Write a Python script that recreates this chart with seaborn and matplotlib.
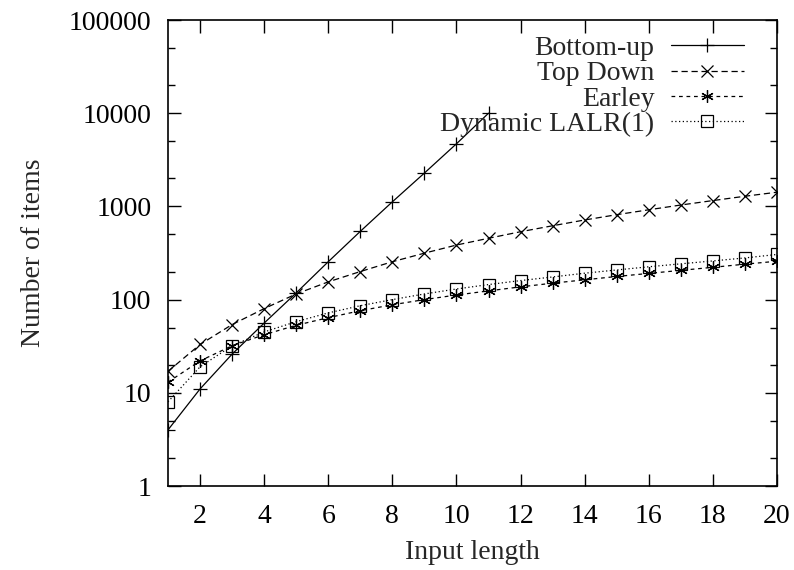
import matplotlib
matplotlib.use("Agg")
import matplotlib.pyplot as plt
import seaborn as sns
from matplotlib.ticker import LogLocator, NullFormatter, FixedLocator

# === DATA ===
x_bottom = list(range(1, 12))
bottom_up = [4, 11, 26, 56, 118, 255, 540, 1120, 2280, 4700, 10000]

x_all = list(range(1, 21))
top_down = [17, 33, 54, 80, 115, 155, 200, 255, 315, 385,
            455, 535, 620, 715, 815, 920, 1035, 1155, 1285, 1420]
earley = [13, 22, 32, 42, 53, 64, 76, 88, 100, 112,
          124, 137, 150, 163, 177, 191, 206, 222, 240, 258]
lalr = [8, 19, 32, 45, 58, 72, 86, 100, 115, 130,
        145, 160, 175, 192, 208, 225, 242, 260, 280, 305]

x_ticks = [2, 4, 6, 8, 10, 12, 14, 16, 18, 20]
y_ticks = [1, 10, 100, 1000, 10000, 100000]

sns.set_theme(style="ticks")
plt.rcParams['font.family'] = ['Liberation Serif', 'DejaVu Serif']

FS = 20

fig = plt.figure(figsize=(7.94, 5.70), dpi=100)
# axes box: x 168..777, y 20..486 px
ax = fig.add_axes([168 / 794, (570 - 486) / 570, 609 / 794, 466 / 570])

lw = 0.9
common = dict(ax=ax, color='black', lw=lw, mew=0.9,
              markeredgecolor='black')
sns.lineplot(x=x_bottom, y=bottom_up, marker='+', markersize=10,
             label='Bottom-up', **common)
sns.lineplot(x=x_all, y=top_down, dashes=(5, 3), marker='x', markersize=8,
             label='Top Down', **common)
sns.lineplot(x=x_all, y=earley, dashes=(3, 3), marker=(6, 2, 0), markersize=9,
             label='Earley', **common)
sns.lineplot(x=x_all, y=lalr, dashes=(1, 2), marker='s', markersize=8,
             markerfacecolor='none', label='Dynamic LALR(1)', **common)

ax.set_yscale('log')
ax.set_xlim(1, 20)
ax.set_ylim(1, 100000)
ax.xaxis.set_major_locator(FixedLocator(x_ticks))
ax.set_xticklabels([str(v) for v in x_ticks])
ax.yaxis.set_major_locator(FixedLocator(y_ticks))
ax.set_yticklabels([str(v) for v in y_ticks])
ax.yaxis.set_minor_locator(LogLocator(base=10, subs=(2, 5), numticks=20))
ax.yaxis.set_minor_formatter(NullFormatter())

ax.tick_params(which='both', direction='in', top=True, right=True,
               labelsize=FS, width=1, colors='black')
ax.tick_params(axis='x', pad=13)
ax.tick_params(axis='y', pad=12)
ax.tick_params(which='major', length=9)
ax.tick_params(which='minor', length=5)
for s in ax.spines.values():
    s.set_visible(True)
    s.set_linewidth(1.2)
    s.set_color('black')

ax.set_xlabel('Input length', fontsize=FS, labelpad=8)
ax.set_ylabel('Number of items', fontsize=FS, labelpad=16)

ax.legend(loc='upper right', bbox_to_anchor=(0.945, 0.967), frameon=False,
          markerfirst=False, fontsize=FS, handlelength=2.6,
          labelspacing=0.0, handletextpad=0.6, borderpad=0.0,
          borderaxespad=0.0)

fig.savefig('out.png', dpi=100)
